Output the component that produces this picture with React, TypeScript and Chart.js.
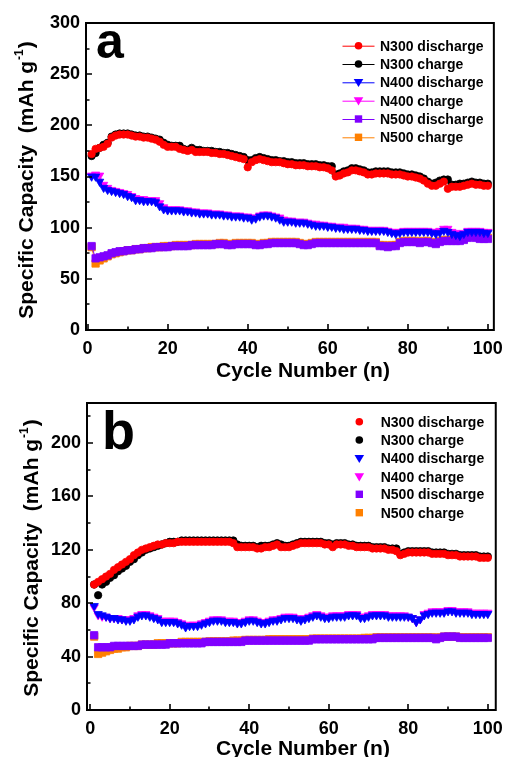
import { useEffect, useRef } from "react";
import { Chart, registerables } from "chart.js";
Chart.register(...registerables);

// ---------- data ----------
const cycles = Array.from({ length: 100 }, (_, i) => i + 1);

const seriesNames = ["N300 discharge", "N300 charge", "N400 discharge", "N400 charge", "N500 discharge", "N500 charge"];
const seriesColors = ["#ff0000", "#000000", "#0000ff", "#ff00ff", "#8000ff", "#ff8000"];
const seriesShapes = ["circle", "circle", "triangle", "triangle", "rect", "rect"];

// panel a
const aN300Discharge = [
  172, 177, 178, 179, 182, 188, 190, 191, 191, 191,
  190, 189, 189, 188, 188, 187, 186, 184, 181, 179,
  179, 179, 177, 176, 175, 176, 174, 174, 174, 174,
  173, 173, 172, 172, 171, 170, 169, 168, 167, 159,
  164, 166, 167, 166, 165, 164, 164, 164, 163, 162,
  162, 161, 161, 161, 160, 160, 160, 159, 159, 158,
  156, 150, 151, 153, 154, 156, 156, 155, 154, 152,
  152, 153, 153, 153, 153, 152, 152, 152, 151, 150,
  150, 149, 148, 146, 143, 141, 141, 143, 145, 138,
  140, 140, 140, 141, 142, 143, 142, 142, 141, 141,
];
const aN300Charge = [
  170, 173, 178, 181, 183, 189, 191, 192, 192, 192,
  191, 190, 190, 189, 189, 188, 187, 186, 183, 181,
  180, 180, 180, 177, 176, 178, 176, 176, 175, 175,
  175, 174, 174, 173, 173, 172, 171, 170, 169, 166,
  166, 168, 169, 168, 167, 166, 166, 165, 165, 164,
  164, 163, 163, 163, 162, 162, 162, 161, 161, 160,
  160, 152, 153, 155, 156, 158, 158, 157, 156, 154,
  154, 155, 155, 155, 155, 154, 154, 154, 153, 152,
  152, 151, 150, 148, 145, 143, 144, 146, 147, 147,
  142, 142, 143, 143, 144, 145, 144, 144, 143, 143,
];
const aN400Discharge = [
  150, 150, 145, 139, 137, 136, 135, 134, 133, 131,
  130, 127, 127, 126, 126, 126, 125, 121, 118, 117,
  117, 117, 117, 116, 116, 115, 115, 114, 114, 114,
  113, 113, 113, 112, 112, 111, 111, 111, 110, 110,
  108, 109, 111, 112, 112, 111, 110, 108, 106, 106,
  106, 105, 105, 105, 104, 103, 102, 102, 102, 101,
  101, 100, 100, 99, 99, 99, 99, 98, 98, 97,
  97, 97, 97, 97, 96, 95, 94, 95, 96, 96,
  96, 96, 96, 96, 96, 95, 94, 95, 97, 96,
  94, 93, 92, 94, 96, 96, 96, 96, 95, 95,
];
const aN400Charge = [
  151, 152, 151, 142, 139, 137, 136, 135, 134, 133,
  131, 129, 128, 128, 127, 127, 127, 124, 120, 118,
  118, 118, 118, 117, 117, 116, 116, 115, 115, 115,
  114, 114, 114, 113, 113, 112, 112, 112, 111, 111,
  110, 110, 112, 113, 113, 112, 111, 110, 108, 107,
  107, 106, 106, 106, 105, 104, 104, 103, 103, 102,
  102, 101, 101, 101, 100, 100, 100, 99, 99, 98,
  98, 98, 98, 98, 97, 96, 96, 96, 97, 97,
  97, 97, 97, 97, 97, 96, 96, 97, 99, 99,
  96, 95, 94, 95, 97, 97, 97, 97, 96, 96,
];
const aN500Discharge = [
  82, 70, 71, 72, 73, 75, 76, 77, 77, 78,
  78, 79, 79, 80, 80, 80, 81, 81, 81, 81,
  82, 82, 82, 82, 82, 83, 83, 83, 83, 83,
  83, 84, 84, 84, 83, 83, 84, 84, 84, 84,
  84, 83, 83, 84, 84, 85, 85, 85, 85, 85,
  85, 85, 84, 83, 83, 84, 85, 85, 85, 85,
  85, 85, 85, 85, 85, 85, 85, 85, 85, 85,
  85, 85, 82, 82, 81, 82, 82, 85, 86, 86,
  86, 86, 85, 86, 86, 85, 84, 86, 87, 87,
  87, 87, 87, 88, 90, 92, 90, 89, 89, 89,
];
const aN500Charge = [
  81, 65, 68, 70, 72, 74, 75, 76, 77, 78,
  78, 79, 79, 80, 80, 81, 81, 81, 82, 82,
  82, 83, 83, 83, 83, 83, 84, 84, 84, 84,
  84, 84, 85, 85, 84, 84, 85, 85, 85, 85,
  85, 84, 84, 85, 85, 86, 86, 86, 86, 86,
  86, 86, 85, 84, 84, 85, 86, 86, 86, 86,
  86, 86, 86, 86, 86, 86, 86, 86, 86, 86,
  86, 86, 83, 83, 82, 83, 83, 86, 87, 87,
  87, 87, 86, 87, 87, 86, 85, 87, 88, 88,
  88, 88, 88, 89, 91, 93, 91, 90, 90, 90,
];

// panel b
const bN300Discharge = [
  94, 96, 98, 100, 102, 105, 107, 109, 111, 113,
  116, 118, 120, 121, 122, 123, 124, 124, 125, 125,
  125, 126, 126, 126, 126, 126, 126, 126, 126, 126,
  126, 126, 126, 126, 126, 125, 122, 122, 122, 122,
  122, 121, 121, 122, 122, 123, 124, 122, 122, 122,
  123, 124, 125, 125, 125, 125, 125, 125, 124, 124,
  122, 124, 124, 124, 123, 123, 122, 122, 122, 122,
  121, 121, 121, 121, 120, 120, 119, 116, 117, 118,
  118, 118, 118, 118, 118, 117, 117, 117, 117, 116,
  116, 116, 115, 115, 115, 115, 115, 114, 114, 114,
];
const bN300Charge = [
  94, 86, 94, 96, 99, 101, 104, 106, 108, 111,
  113, 116, 118, 120, 121, 122, 123, 124, 125, 126,
  126, 126, 127, 127, 127, 127, 127, 127, 127, 127,
  127, 127, 127, 127, 127, 127, 124, 123, 123, 123,
  123, 122, 123, 123, 123, 124, 125, 124, 123, 123,
  124, 125, 126, 126, 126, 126, 126, 126, 125, 125,
  124, 125, 125, 125, 124, 124, 123, 123, 123, 123,
  122, 122, 122, 122, 121, 121, 121, 117, 118, 119,
  119, 119, 119, 119, 119, 118, 118, 118, 118, 117,
  117, 117, 116, 116, 116, 116, 116, 115, 115, 115,
];
const bN400Discharge = [
  78, 72, 71, 70, 69, 69, 68, 68, 67, 67,
  68, 70, 71, 71, 70, 69, 68, 66, 66, 66,
  66, 65, 64, 62, 63, 63, 63, 64, 65, 66,
  67, 67, 67, 66, 66, 66, 65, 65, 66, 67,
  67, 66, 65, 65, 66, 67, 67, 68, 69, 69,
  69, 68, 67, 68, 69, 70, 71, 70, 69, 69,
  70, 70, 70, 70, 71, 71, 71, 69, 69, 70,
  71, 71, 71, 71, 70, 70, 70, 70, 70, 70,
  69, 66, 68, 71, 72, 73, 73, 73, 73, 74,
  74, 73, 73, 73, 73, 72, 72, 72, 72, 72,
];
const bN400Charge = [
  77, 71, 70, 70, 69, 69, 69, 68, 68, 68,
  69, 71, 72, 72, 71, 70, 69, 67, 67, 67,
  67, 66, 65, 63, 64, 64, 64, 65, 66, 67,
  68, 68, 68, 67, 67, 67, 66, 66, 67, 68,
  68, 67, 66, 66, 67, 68, 68, 69, 70, 70,
  70, 69, 68, 69, 70, 71, 72, 71, 70, 70,
  71, 71, 71, 71, 72, 72, 72, 70, 70, 71,
  72, 72, 72, 72, 71, 71, 71, 71, 71, 70,
  69, 66, 68, 72, 73, 74, 74, 74, 74, 75,
  75, 74, 74, 74, 74, 73, 73, 73, 73, 73,
];
const bN500Discharge = [
  56, 47, 47, 47, 47, 48, 48, 48, 48, 48,
  48, 48, 49, 49, 49, 49, 49, 49, 49, 50,
  50, 50, 50, 50, 50, 50, 50, 50, 51, 51,
  51, 51, 51, 51, 51, 51, 51, 51, 52, 52,
  52, 52, 52, 52, 52, 52, 52, 52, 52, 52,
  52, 52, 52, 52, 52, 53, 53, 53, 53, 53,
  53, 53, 53, 53, 53, 53, 53, 53, 53, 53,
  53, 54, 54, 54, 54, 54, 54, 54, 54, 54,
  54, 54, 54, 54, 54, 54, 53, 54, 55, 55,
  55, 55, 54, 54, 54, 54, 54, 54, 54, 54,
];
const bN500Charge = [
  55, 42, 43, 44, 45, 46, 46, 47, 47, 48,
  48, 48, 49, 49, 49, 49, 50, 50, 50, 50,
  50, 50, 51, 51, 51, 51, 51, 51, 51, 51.5,
  51.5, 51.5, 51.5, 51.5, 51.5, 52, 52, 52, 52.5, 52.5,
  52.5, 52.5, 52.5, 52.5, 53, 53, 53, 53, 53, 53,
  53, 53, 53, 53, 53, 53.5, 53.5, 53.5, 53.5, 53.5,
  53.5, 53.5, 53.5, 53.5, 53.5, 53.5, 53.5, 53.5, 54, 54,
  54, 54.5, 54.5, 54.5, 54.5, 54.5, 54.5, 54.5, 54.5, 54.5,
  54.5, 54.5, 54.5, 54.5, 54.5, 54.5, 54, 54.5, 55, 55,
  55, 55, 54.5, 54.5, 54.5, 54.5, 54.5, 54.5, 54.5, 54.5,
];

const aXTicks = [0, 20, 40, 60, 80, 100];
const aXMinor = [10, 30, 50, 70, 90];
const aYTicks = [0, 50, 100, 150, 200, 250, 300];
const aYMinor = [25, 75, 125, 175, 225, 275];
const bXTicks = [0, 20, 40, 60, 80, 100];
const bXMinor = [10, 30, 50, 70, 90];
const bYTicks = [0, 40, 80, 120, 160, 200];
const bYMinor = [20, 60, 100, 140, 180, 220];

const FONT = '"Liberation Sans", Arial, sans-serif';

type Panel = {
  label: string;
  series: number[][];
  showLine: boolean;
  xMin: number; xMax: number; yMin: number; yMax: number;
  xTicks: number[]; xMinor: number[]; yTicks: number[]; yMinor: number[];
  yAxisWidth: number; xAxisHeight: number;
  labelX: number; labelY: number; labelSize: number;
  legendY: number[]; legendMarkerX: number; legendTextX: number;
  yTitleX: number; yTitleY: number; xTitleX: number; xTitleY: number;
};

function drawMarker(ctx: CanvasRenderingContext2D, shape: string, x: number, y: number, color: string) {
  ctx.fillStyle = color;
  ctx.beginPath();
  if (shape === "circle") {
    ctx.arc(x, y, 3.8, 0, Math.PI * 2);
  } else if (shape === "triangle") {
    ctx.moveTo(x - 4.8, y - 3.4);
    ctx.lineTo(x + 4.8, y - 3.4);
    ctx.lineTo(x, y + 4.8);
    ctx.closePath();
  } else {
    ctx.rect(x - 3.7, y - 3.7, 7.4, 7.4);
  }
  ctx.fill();
}

function makeDecor(p: Panel) {
  return {
    id: "decor",
    afterDraw(chart: any) {
      const { ctx, chartArea: ca, scales } = chart;
      const x = scales.x, y = scales.y;
      ctx.save();
      // frame
      ctx.strokeStyle = "#000";
      ctx.lineWidth = 2;
      ctx.strokeRect(ca.left, ca.top, ca.right - ca.left, ca.bottom - ca.top);
      // ticks (inside)
      ctx.lineWidth = 1.6;
      ctx.beginPath();
      p.yTicks.forEach((v) => { const py = Math.round(y.getPixelForValue(v)); ctx.moveTo(ca.left, py); ctx.lineTo(ca.left + 6, py); });
      p.yMinor.forEach((v) => { const py = Math.round(y.getPixelForValue(v)); ctx.moveTo(ca.left, py); ctx.lineTo(ca.left + 3.5, py); });
      p.xTicks.forEach((v) => { const px = Math.round(x.getPixelForValue(v)); ctx.moveTo(px, ca.bottom); ctx.lineTo(px, ca.bottom - 6); });
      p.xMinor.forEach((v) => { const px = Math.round(x.getPixelForValue(v)); ctx.moveTo(px, ca.bottom); ctx.lineTo(px, ca.bottom - 3.5); });
      ctx.stroke();

      // panel letter
      ctx.fillStyle = "#000";
      ctx.textAlign = "left";
      ctx.textBaseline = "alphabetic";
      ctx.font = `bold ${p.labelSize}px ${FONT}`;
      ctx.fillText(p.label, p.labelX, p.labelY);

      // legend
      ctx.font = `bold 14px ${FONT}`;
      ctx.textBaseline = "middle";
      seriesNames.forEach((name, i) => {
        const ly = p.legendY[i];
        if (p.showLine) {
          ctx.strokeStyle = seriesColors[i];
          ctx.lineWidth = 1;
          ctx.beginPath();
          ctx.moveTo(p.legendMarkerX - 16, ly + 0.5);
          ctx.lineTo(p.legendMarkerX + 16, ly + 0.5);
          ctx.stroke();
        }
        drawMarker(ctx, seriesShapes[i], p.legendMarkerX, ly, seriesColors[i]);
        ctx.fillStyle = "#000";
        ctx.fillText(name, p.legendTextX, ly + 1);
      });

      // x title
      ctx.textAlign = "center";
      ctx.textBaseline = "alphabetic";
      ctx.font = `bold 21px ${FONT}`;
      ctx.fillText("Cycle Number (n)", p.xTitleX, p.xTitleY);

      // y title with superscript
      ctx.save();
      ctx.translate(p.yTitleX, p.yTitleY);
      ctx.rotate(-Math.PI / 2);
      ctx.textAlign = "left";
      const t1 = "Specific Capacity  (mAh g";
      const sup = "-1";
      const t2 = ")";
      ctx.font = `bold 21px ${FONT}`;
      const w1 = ctx.measureText(t1).width;
      const w2 = ctx.measureText(t2).width;
      ctx.font = `bold 12px ${FONT}`;
      const ws = ctx.measureText(sup).width;
      const total = w1 + ws + w2 + 2;
      let xx = -total / 2;
      ctx.font = `bold 21px ${FONT}`;
      ctx.fillText(t1, xx, 0);
      xx += w1 + 1;
      ctx.font = `bold 12px ${FONT}`;
      ctx.fillText(sup, xx, -10);
      xx += ws + 1;
      ctx.font = `bold 21px ${FONT}`;
      ctx.fillText(t2, xx, 0);
      ctx.restore();

      ctx.restore();
    },
  };
}

function makeConfig(p: Panel): any {
  const datasets = p.series.map((vals, i) => ({
    label: seriesNames[i],
    data: cycles.map((c, k) => ({ x: c, y: vals[k] })),
    showLine: p.showLine,
    borderColor: seriesColors[i],
    backgroundColor: seriesColors[i],
    borderWidth: 1,
    tension: 0,
    pointStyle: seriesShapes[i],
    pointRotation: seriesShapes[i] === "triangle" ? 180 : 0,
    pointRadius: seriesShapes[i] === "circle" ? 3.7 : seriesShapes[i] === "triangle" ? 4.8 : 5.2,
    pointBackgroundColor: seriesColors[i],
    pointBorderColor: seriesColors[i],
    pointBorderWidth: 0.8,
    clip: false,
  }));
  const tickFont = { family: FONT, size: 18, weight: "bold" };
  return {
    type: "line",
    data: { datasets },
    options: {
      animation: false,
      responsive: false,
      events: [],
      layout: { padding: { top: 23, right: 9, left: 0, bottom: 0 }, autoPadding: false },
      plugins: { legend: { display: false }, tooltip: { enabled: false } },
      scales: {
        x: {
          type: "linear",
          min: p.xMin,
          max: p.xMax,
          afterBuildTicks: (s: any) => { s.ticks = p.xTicks.map((v) => ({ value: v })); },
          afterFit: (s: any) => { s.height = p.xAxisHeight; },
          grid: { display: false, drawTicks: false },
          border: { display: false },
          ticks: { font: tickFont, color: "#000", padding: 8, maxRotation: 0, autoSkip: false },
        },
        y: {
          type: "linear",
          min: p.yMin,
          max: p.yMax,
          afterBuildTicks: (s: any) => { s.ticks = p.yTicks.map((v) => ({ value: v })); },
          afterFit: (s: any) => { s.width = p.yAxisWidth; },
          grid: { display: false, drawTicks: false },
          border: { display: false },
          ticks: { font: tickFont, color: "#000", padding: 6, autoSkip: false },
        },
      },
    },
    plugins: [makeDecor(p)],
  };
}

const panelA: Panel = {
  label: "a",
  series: [aN300Discharge, aN300Charge, aN400Discharge, aN400Charge, aN500Discharge, aN500Charge],
  showLine: true,
  xMin: -0.4, xMax: 101.5, yMin: 0, yMax: 300,
  xTicks: aXTicks, xMinor: aXMinor, yTicks: aYTicks, yMinor: aYMinor,
  yAxisWidth: 86, xAxisHeight: 55,
  labelX: 96, labelY: 58, labelSize: 50,
  legendY: [45.7, 64, 82.3, 100.7, 119, 137.3], legendMarkerX: 358.5, legendTextX: 380,
  yTitleX: 33, yTitleY: 180, xTitleX: 303, xTitleY: 377,
};

const panelB: Panel = {
  label: "b",
  series: [bN300Discharge, bN300Charge, bN400Discharge, bN400Charge, bN500Discharge, bN500Charge],
  showLine: false,
  xMin: -0.8, xMax: 102, yMin: 0, yMax: 230,
  xTicks: bXTicks, xMinor: bXMinor, yTicks: bYTicks, yMinor: bYMinor,
  yAxisWidth: 87, xAxisHeight: 47,
  labelX: 102, labelY: 69, labelSize: 54,
  legendY: [41.7, 60, 78.3, 96.7, 114.3, 132.7], legendMarkerX: 359.3, legendTextX: 380.7,
  yTitleX: 38, yTitleY: 178, xTitleX: 303, xTitleY: 375,
};

function ChartCanvas({ panel, top, height }: { panel: Panel; top: number; height: number }) {
  const ref = useRef<HTMLCanvasElement | null>(null);
  useEffect(() => {
    if (!ref.current) return;
    const chart = new Chart(ref.current, makeConfig(panel));
    return () => chart.destroy();
  }, [panel]);
  return (
    <canvas
      ref={ref}
      width={511}
      height={height}
      style={{ position: "absolute", left: 0, top, width: 511, height, display: "block" }}
    />
  );
}

export default function App() {
  return (
    <div style={{ position: "absolute", left: 0, top: 0, width: 511, height: 757, background: "#fff", overflow: "hidden" }}>
      <ChartCanvas panel={panelA} top={0} height={385} />
      <ChartCanvas panel={panelB} top={380} height={377} />
    </div>
  );
}
